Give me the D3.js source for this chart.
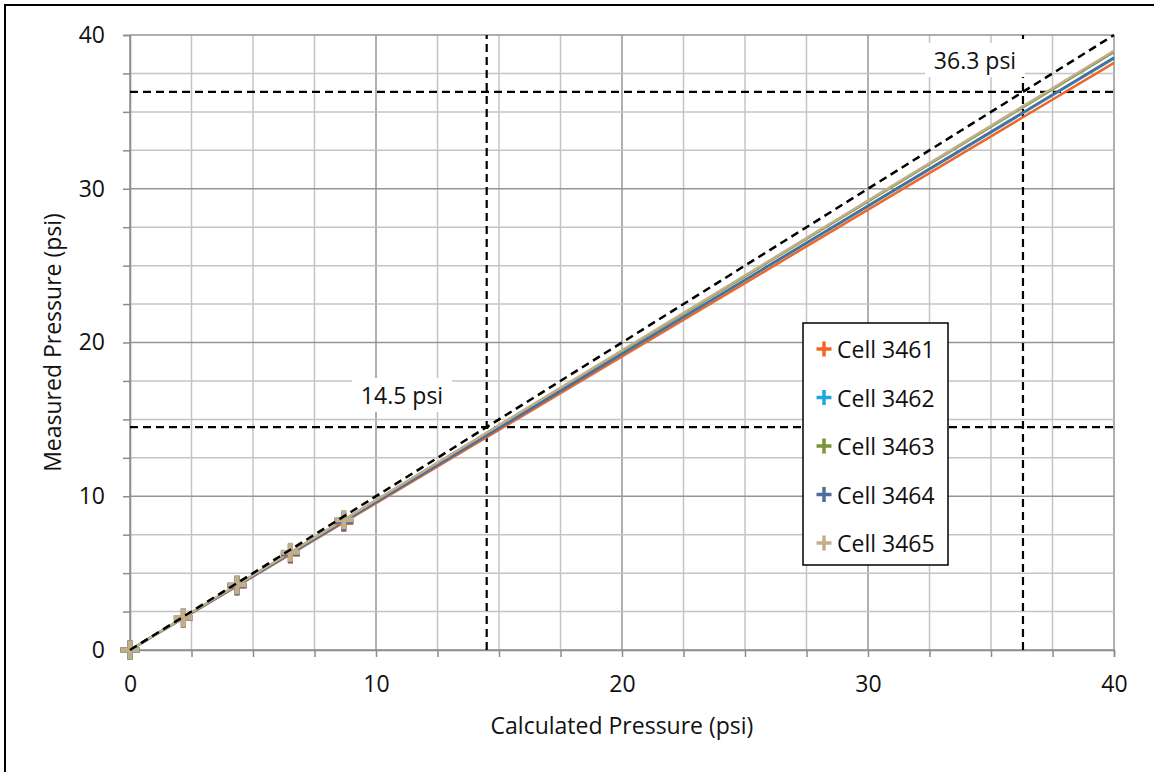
<!DOCTYPE html>
<html>
<head>
<meta charset="utf-8">
<script src="https://d3js.org/d3.v7.min.js"></script>
<style>
  body { margin: 0; background: #fff; }
  svg text { font-family: "Open Sans", sans-serif; fill: #111; }
</style>
</head>
<body>
<div id="chart"></div>
<script>
// calculated pressure (psi) for each test point
const calculated = [0, 2.17, 4.35, 6.52, 8.69];

const cells = ["Cell 3461", "Cell 3462", "Cell 3463", "Cell 3464", "Cell 3465"];
const cellColors = ["#f26522", "#1ea7df", "#77963c", "#4e6c99", "#c3ae8c"];

// measured pressure for each cell at the points above
const cell3461 = [0, 2.07, 4.15, 6.22, 8.30];
const cell3462 = [0, 2.09, 4.18, 6.27, 8.36];
const cell3463 = [0, 2.11, 4.23, 6.34, 8.45];
const cell3464 = [0, 2.09, 4.19, 6.28, 8.37];
const cell3465 = [0, 2.11, 4.24, 6.35, 8.47];
const measured = [cell3461, cell3462, cell3463, cell3464, cell3465];

const ticks = [0, 10, 20, 30, 40];
const markerLines = [14.5, 36.3];
const markerLabels = ["14.5 psi", "36.3 psi"];

document.addEventListener('DOMContentLoaded', () => {
  let width = 1154, height = 772;
  let fs = 23;
  let svg = d3.select("#chart").append("svg")
    .attr("width", width).attr("height", height);

  let x = d3.scaleLinear().domain([0, 40]).range([130, 1114]);
  let y = d3.scaleLinear().domain([0, 40]).range([650, 35]);

  // outer frame (only left/top visible in the original)
  svg.append("rect")
    .attr("x", 5).attr("y", 5).attr("width", 1300).attr("height", 1000)
    .attr("fill", "none").attr("stroke", "#000").attr("stroke-width", 2);

  let minor = d3.range(0, 40.01, 2.5);

  // grid
  let grid = svg.append("g");
  grid.selectAll("line.gx").data(minor).enter().append("line")
    .attr("x1", d => x(d)).attr("x2", d => x(d))
    .attr("y1", y(0)).attr("y2", y(40))
    .attr("stroke", d => d % 10 === 0 ? "#959595" : "#c4c4c4")
    .attr("stroke-width", 1.5);
  grid.selectAll("line.gy").data(minor).enter().append("line")
    .attr("y1", d => y(d)).attr("y2", d => y(d))
    .attr("x1", x(0)).attr("x2", x(40))
    .attr("stroke", d => d % 10 === 0 ? "#959595" : "#c4c4c4")
    .attr("stroke-width", 1.5);

  // axes
  let xAxis = d3.axisBottom(x).tickValues(minor).tickSize(7)
    .tickFormat(d => ticks.includes(d) ? d : "");
  let gx = svg.append("g").attr("transform", `translate(0,${y(0)})`).call(xAxis);
  gx.select(".domain").attr("stroke", "#8c8c8c").attr("stroke-width", 1.5);
  gx.selectAll(".tick line").attr("stroke", "#8c8c8c").attr("stroke-width", 1.5);
  gx.selectAll(".tick text").attr("font-size", fs).attr("y", 34).attr("dy", "0.35em")
    .style("font-family", "'Open Sans', sans-serif").style("fill", "#111");

  let yAxis = d3.axisLeft(y).tickValues(minor).tickSize(7)
    .tickFormat(d => ticks.includes(d) ? d : "");
  let gy = svg.append("g").attr("transform", `translate(${x(0)},0)`).call(yAxis);
  gy.select(".domain").attr("stroke", "#8c8c8c").attr("stroke-width", 1.5);
  gy.selectAll(".tick line").attr("stroke", "#8c8c8c").attr("stroke-width", 1.5);
  gy.selectAll(".tick text").attr("font-size", fs).attr("x", -25)
    .style("font-family", "'Open Sans', sans-serif").style("fill", "#111");

  svg.append("text").attr("x", (x(0) + x(40)) / 2).attr("y", 725)
    .attr("text-anchor", "middle").attr("dominant-baseline", "central").attr("font-size", fs)
    .text("Calculated Pressure (psi)");
  svg.append("text")
    .attr("transform", `translate(52,${(y(0) + y(40)) / 2}) rotate(-90)`)
    .attr("text-anchor", "middle").attr("dominant-baseline", "central").attr("font-size", fs)
    .text("Measured Pressure (psi)");

  // reference dashed lines
  let dash = svg.append("g").attr("stroke", "#000").attr("stroke-width", 2.2)
    .attr("stroke-dasharray", "8,5").attr("fill", "none");
  markerLines.forEach(v => {
    dash.append("line").attr("x1", x(0)).attr("x2", x(40)).attr("y1", y(v)).attr("y2", y(v));
    dash.append("line").attr("x1", x(v)).attr("x2", x(v)).attr("y1", y(0)).attr("y2", y(40));
  });

  // labels with white boxes
  let labelPos = [[402, 395], [975, 60]];
  markerLabels.forEach((t, i) => {
    svg.append("rect").attr("x", labelPos[i][0] - 50).attr("y", labelPos[i][1] - 17)
      .attr("width", 100).attr("height", 34).attr("fill", "#fff");
    svg.append("text").attr("x", labelPos[i][0]).attr("y", labelPos[i][1])
      .attr("text-anchor", "middle").attr("dominant-baseline", "central")
      .attr("font-size", fs).text(t);
  });

  // trend lines (least squares through origin)
  measured.forEach((m, i) => {
    let sxy = d3.sum(m, (v, j) => v * calculated[j]);
    let sxx = d3.sum(calculated, v => v * v);
    let k = sxy / sxx;
    svg.append("line")
      .attr("x1", x(0)).attr("y1", y(0)).attr("x2", x(40)).attr("y2", y(40 * k))
      .attr("stroke", cellColors[i]).attr("stroke-width", 2.5);
  });

  // markers
  function cross(g, cx, cy, size, w, color) {
    g.append("path")
      .attr("d", `M${cx - size / 2},${cy}H${cx + size / 2}M${cx},${cy - size / 2}V${cy + size / 2}`)
      .attr("stroke", color).attr("stroke-width", w).attr("fill", "none");
  }
  let markers = svg.append("g");
  measured.forEach((m, i) => {
    m.forEach((v, j) => cross(markers, x(calculated[j]), y(v), 19, 5, cellColors[i]));
  });

  // 1:1 line
  svg.append("line").attr("x1", x(0)).attr("y1", y(0)).attr("x2", x(40)).attr("y2", y(40))
    .attr("stroke", "#000").attr("stroke-width", 2.5).attr("stroke-dasharray", "8,5");

  // legend
  let legend = svg.append("g");
  legend.append("rect").attr("x", 803).attr("y", 323).attr("width", 145).attr("height", 242)
    .attr("fill", "#fff").attr("stroke", "#000").attr("stroke-width", 1.5);
  cells.forEach((c, i) => {
    let ly = 349 + i * 48.5;
    cross(legend, 824, ly, 15, 3.5, cellColors[i]);
    legend.append("text").attr("x", 837).attr("y", ly)
      .attr("dominant-baseline", "central").attr("font-size", fs).text(c);
  });
});
</script>
</body>
</html>
